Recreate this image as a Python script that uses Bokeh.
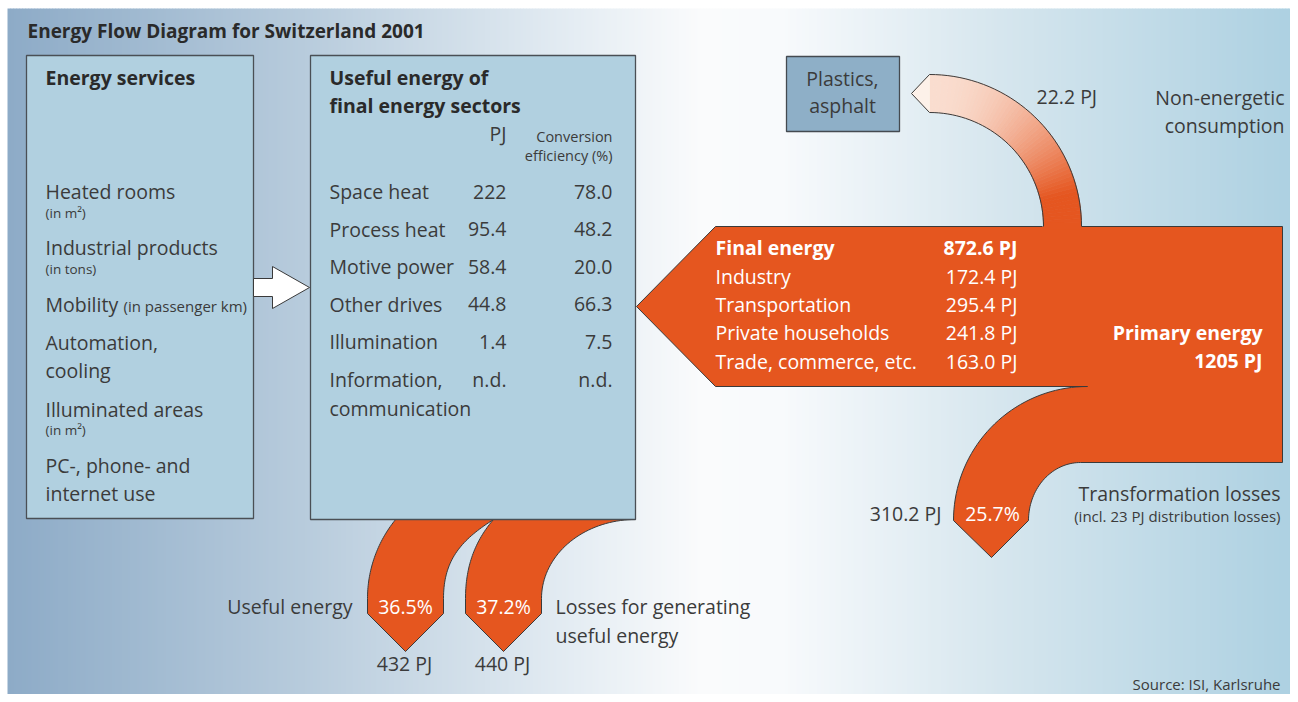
import numpy as np
from bokeh.plotting import figure
from bokeh.models import Range1d
from bokeh.core.properties import value
from bokeh.embed import file_html
from bokeh.resources import INLINE

# ---------------- data ----------------
title = "Energy Flow Diagram for Switzerland 2001"
services_heading = "Energy services"
services = ["Heated rooms", "Industrial products", "Mobility", "Automation,", "cooling",
            "Illuminated areas", "PC-, phone- and", "internet use"]
service_units = ["(in m²)", "(in tons)", "(in passenger km)", "(in m²)"]
sectors_heading = ["Useful energy of", "final energy sectors"]
sectors = ["Space heat", "Process heat", "Motive power", "Other drives", "Illumination", "Information,"]
sector_pj = [222, 95.4, 58.4, 44.8, 1.4, None]
sector_eff = [78.0, 48.2, 20.0, 66.3, 7.5, None]
final_sectors = ["Industry", "Transportation", "Private households", "Trade, commerce, etc."]
final_pj = [172.4, 295.4, 241.8, 163.0]
final_total = 872.6
primary_total = 1205
non_energetic_pj = 22.2
transformation_pj = 310.2
transformation_pct = 25.7
useful_pj = 432
useful_pct = 36.5
losses_pj = 440
losses_pct = 37.2
source = "Source: ISI, Karlsruhe"

# ---------------- style ----------------
FONT = "Open Sans"
DARK = "#3b3b3b"
ORANGE = "#E5561F"
EDGE = "#3a3a3a"
BOX = "#B1D0E0"
BODY = 19.5

W, H = 1290, 694
p = figure(width=W, height=H, x_range=Range1d(0, W), y_range=Range1d(H, 0),
           output_backend="svg", toolbar_location=None, min_border=0)
p.axis.visible = False
p.grid.visible = False
p.outline_line_color = None
p.background_fill_color = "white"
p.border_fill_color = "white"


def txt(x, y, s, size=BODY, color=DARK, align="left", bold=False):
    p.text(x=[x], y=[y], text=[s], text_font=value(FONT), text_font_size=value(f"{size}px"),
           text_color=color, text_align=align, text_baseline="middle",
           text_font_style=value("bold" if bold else "normal"))


def hexc(c):
    return "#%02x%02x%02x" % tuple(int(round(v)) for v in c)


# ---------------- background gradient ----------------
stops_x = [7, 300, 560, 700, 780, 1000, 1298]
stops_c = np.array([(141, 171, 199), (183, 203, 220), (226, 235, 242), (250, 251, 252),
                    (248, 250, 252), (214, 230, 238), (172, 208, 225)], float)
bx = np.arange(7, W, 3.0)
bcol = [hexc([np.interp(x + 1.5, stops_x, stops_c[:, k]) for k in range(3)]) for x in bx]
p.quad(left=bx, right=bx + 3.6, top=8, bottom=H, fill_color=bcol, line_color=None)


# ---------------- geometry helpers ----------------
def bez(p0, p1, p2, p3, n=40):
    t = np.linspace(0, 1, n)[:, None]
    P = [np.array(v, float) for v in (p0, p1, p2, p3)]
    return (1 - t) ** 3 * P[0] + 3 * (1 - t) ** 2 * t * P[1] + 3 * (1 - t) * t ** 2 * P[2] + t ** 3 * P[3]


def arc(cx, cy, rx, ry, a0, a1, n=40):
    a = np.radians(np.linspace(a0, a1, n))
    return np.column_stack([cx + rx * np.cos(a), cy - ry * np.sin(a)])


def pts(*parts):
    out = []
    for q in parts:
        q = np.asarray(q, float)
        if q.ndim == 1:
            q = q[None, :]
        out.append(q)
    return np.vstack(out)


# ---------------- bottom flows out of the sector box ----------------
band1 = pts([395, 519], [493, 519],
            bez([443, 598], [443, 560], [460, 540], [493, 519])[::-1],
            [443, 613], [405, 651], [367, 613],
            arc(492, 598, 125, 125, 180, 140.8))
band2 = pts([493, 519], [635, 519],
            arc(635, 598, 94, 79, 90, 180),
            [541, 613], [503, 651], [465, 613],
            bez([465, 598], [465, 565], [475, 540], [493, 519]))
for b in (band1, band2):
    p.patch(b[:, 0], b[:, 1], fill_color=ORANGE, line_color=EDGE, line_width=1)

# ---------------- boxes ----------------
p.quad(left=[26, 310], right=[253, 635], top=[55, 55], bottom=[518, 519],
       fill_color=BOX, line_color="#4a4f55", line_width=1.3)

# white arrow between boxes
arrow = np.array([[253, 278], [272, 278], [272, 266], [309, 287], [272, 308], [272, 296], [253, 296]], float)
p.patch(arrow[:, 0], arrow[:, 1], fill_color="white", line_color=EDGE, line_width=1)

# ---------------- main orange body ----------------
body = pts([1080, 226], [1282, 226], [1282, 462],
           arc(1080, 520, 52, 58, 90, 180),
           [991, 557],
           arc(1087, 520, 134, 134, 180, 90),
           [715, 386], [636, 306], [715, 226], [1042, 226])
p.patch(body[:, 0], body[:, 1], fill_color=ORANGE, line_color=None)
p.line(body[:, 0], body[:, 1], line_color=EDGE, line_width=1)

# ---------------- non-energetic band (gradient) ----------------
cx, cy, Ro, Ri = 929, 226, 152, 114
N = 60
angs = np.linspace(0, 90, N + 1)
sx, sy, scol = [], [], []
top_c = np.array([253, 241, 233], float)
bot_c = np.array([229, 86, 32], float)
for k in range(N):
    o = arc(cx, cy, Ro, Ro, angs[k], angs[k + 1], 6)
    i = arc(cx, cy, Ri, Ri, angs[k + 1], angs[k], 6)
    q = np.vstack([o, i])
    ym = q[:, 1].mean()
    t = np.clip((ym - 78) / (195 - 78), 0, 1)
    scol.append(hexc(top_c + (bot_c - top_c) * t))
    sx.append(q[:, 0])
    sy.append(q[:, 1])
p.patches(sx, sy, fill_color=scol, line_color=scol, line_width=0.8)
p.patch([929, 911, 929], [74, 93, 112], fill_color=hexc(top_c), line_color=hexc(top_c), line_width=0.8)
p.quad(left=[1043], right=[1081], top=[222], bottom=[229], fill_color=ORANGE, line_color=None)
band_out = pts(arc(cx, cy, Ro, Ro, 0, 90), [911, 93], arc(cx, cy, Ri, Ri, 90, 0))
p.line(band_out[:, 0], band_out[:, 1], line_color=EDGE, line_width=1)

# plastics box
p.quad(left=[786], right=[899], top=[56], bottom=[131], fill_color="#8EAFC7",
       line_color="#444a50", line_width=1.3)
txt(842, 78, "Plastics,", align="center")
txt(842, 105, "asphalt", align="center")

# ---------------- texts ----------------
txt(27, 30, title, size=19, color="#2a2a2a", bold=True)

# energy services box
txt(45, 77, services_heading, size=19.5, color="#2a2a2a", bold=True)
svc_y = [191, 247, 304, 342, 370, 409, 465, 493]
for s, y in zip(services, svc_y):
    txt(45, y, s)
unit_pos = [(45, 212, 13.5), (45, 268, 13.5), (123, 305, 15), (45, 429, 13.5)]
for u, (x, y, sz) in zip(service_units, unit_pos):
    txt(x, y, u, size=sz)

# sectors box
txt(329, 77, sectors_heading[0], size=19.5, color="#2a2a2a", bold=True)
txt(329, 105, sectors_heading[1], size=19.5, color="#2a2a2a", bold=True)
txt(506, 133, "PJ", align="right")
txt(612, 136, "Conversion", size=14.5, align="right")
txt(612, 155, "efficiency (%)", size=14.5, align="right")
row_y0, row_dy = 191, 37.6
for k, (s, v, e) in enumerate(zip(sectors, sector_pj, sector_eff)):
    y = row_y0 + k * row_dy
    txt(329, y, s)
    txt(506, y, "n.d." if v is None else f"{v:g}", align="right")
    txt(612, y, "n.d." if e is None else f"{e:.1f}", align="right")
txt(329, 408, "communication")

# final energy
txt(715, 247, "Final energy", color="white", bold=True)
txt(1017, 247, f"{final_total:.1f} PJ", color="white", bold=True, align="right")
for k, (s, v) in enumerate(zip(final_sectors, final_pj)):
    y = 276 + k * 28.2
    txt(715, y, s, color="white")
    txt(1017, y, f"{v:.1f} PJ", color="white", align="right")
txt(1262, 332, "Primary energy", color="white", bold=True, align="right")
txt(1262, 360, f"{primary_total} PJ", color="white", bold=True, align="right")

# non-energetic
txt(1036, 96, f"{non_energetic_pj:.1f} PJ")
txt(1284, 97, "Non-energetic", align="right")
txt(1284, 125, "consumption", align="right")

# transformation losses
txt(941, 513, f"{transformation_pj:.1f} PJ", align="right")
txt(992, 513, f"{transformation_pct:.1f}%", color="white", align="center")
txt(1280, 493, "Transformation losses", align="right")
txt(1280, 515, "(incl. 23 PJ distribution losses)", size=15, align="right")

# useful energy / losses
txt(352, 606, "Useful energy", align="right")
txt(405, 606, f"{useful_pct:.1f}%", color="white", align="center")
txt(404, 663, f"{useful_pj} PJ", align="center")
txt(503, 606, f"{losses_pct:.1f}%", color="white", align="center")
txt(502, 663, f"{losses_pj} PJ", align="center")
txt(555, 606, "Losses for generating")
txt(555, 635, "useful energy")

txt(1280, 683, source, size=15, align="right")

open("out.html", "w").write(file_html(p, INLINE))
